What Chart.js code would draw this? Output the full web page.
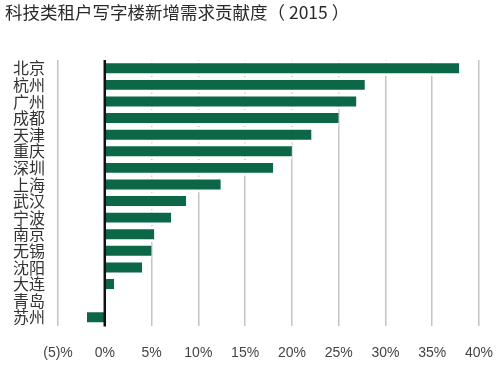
<!DOCTYPE html>
<html>
<head>
<meta charset="utf-8">
<script src="https://cdn.jsdelivr.net/npm/chart.js@4.4.1/dist/chart.umd.min.js"></script>
<style>
  html, body { margin: 0; padding: 0; background: #fff; }
  #wrap { width: 500px; height: 367px; }
</style>
</head>
<body>
<div id="wrap"><canvas id="chart"></canvas></div>
<script>
const cities = ['北京', '杭州', '广州', '成都', '天津', '重庆', '深圳', '上海', '武汉', '宁波', '南京', '无锡', '沈阳', '大连', '青岛', '苏州'];
const shares = [37.9, 27.8, 26.9, 25.0, 22.1, 20.0, 18.0, 12.4, 8.7, 7.1, 5.3, 5.0, 4.0, 1.0, 0, -1.9];
const tickValues = [-5, 0, 5, 10, 15, 20, 25, 30, 35, 40];

// zero line on top of the bars
const zeroLine = {
    id: 'zeroLine',
    afterDatasetsDraw(chart) {
        const { ctx, chartArea, scales } = chart;
        const x = scales.x.getPixelForValue(0);
        ctx.save();
        ctx.strokeStyle = '#111';
        ctx.lineWidth = 2.5;
        ctx.beginPath();
        ctx.moveTo(x, chartArea.top);
        ctx.lineTo(x, chartArea.bottom + 1);
        ctx.stroke();
        ctx.restore();
    }
};

new Chart(document.getElementById('chart').getContext('2d'), {
    type: 'bar',
    data: {
        labels: cities,
        datasets: [{
            data: shares,
            backgroundColor: '#0b6746',
            borderColor: '#ffffff',
            borderWidth: { top: 3, bottom: 3, left: 0, right: 0 },
            borderSkipped: false,
            barPercentage: 0.96,
            categoryPercentage: 1
        }]
    },
    options: {
        indexAxis: 'y',
        responsive: true,
        maintainAspectRatio: false,
        animation: false,
        layout: { padding: { top: 0, right: 0, bottom: 0, left: 5 } },
        scales: {
            x: {
                min: -5,
                max: 40,
                afterBuildTicks: scale => { scale.ticks = tickValues.map(v => ({ value: v })); },
                afterFit: scale => {
                    scale.height = 41.5;
                    scale.paddingRight = 21;
                },
                grid: { color: '#c4c4c4', lineWidth: 1.5, drawTicks: false },
                border: { display: false },
                ticks: {
                    padding: 19,
                    color: '#444',
                    font: { family: "'Liberation Sans Narrow', 'Liberation Sans', sans-serif", size: 14 },
                    callback: v => v < 0 ? `(${-v})%` : `${v}%`
                }
            },
            y: {
                grid: { display: false },
                border: { display: false },
                afterFit: scale => { scale.width = 53; },
                ticks: {
                    padding: 5,
                    color: '#333',
                    autoSkip: false,
                    font: { family: "'Noto Sans CJK SC', sans-serif", size: 16 }
                }
            }
        },
        plugins: {
            legend: { display: false },
            tooltip: { enabled: false },
            title: {
                display: true,
                text: '科技类租户写字楼新增需求贡献度（ 2015 ）',
                align: 'start',
                color: '#2a2a2a',
                font: { family: "'Noto Sans CJK SC', sans-serif", size: 17.5, weight: 'normal' },
                padding: { top: 2, bottom: 37 }
            }
        }
    },
    plugins: [zeroLine]
});
</script>
</body>
</html>
